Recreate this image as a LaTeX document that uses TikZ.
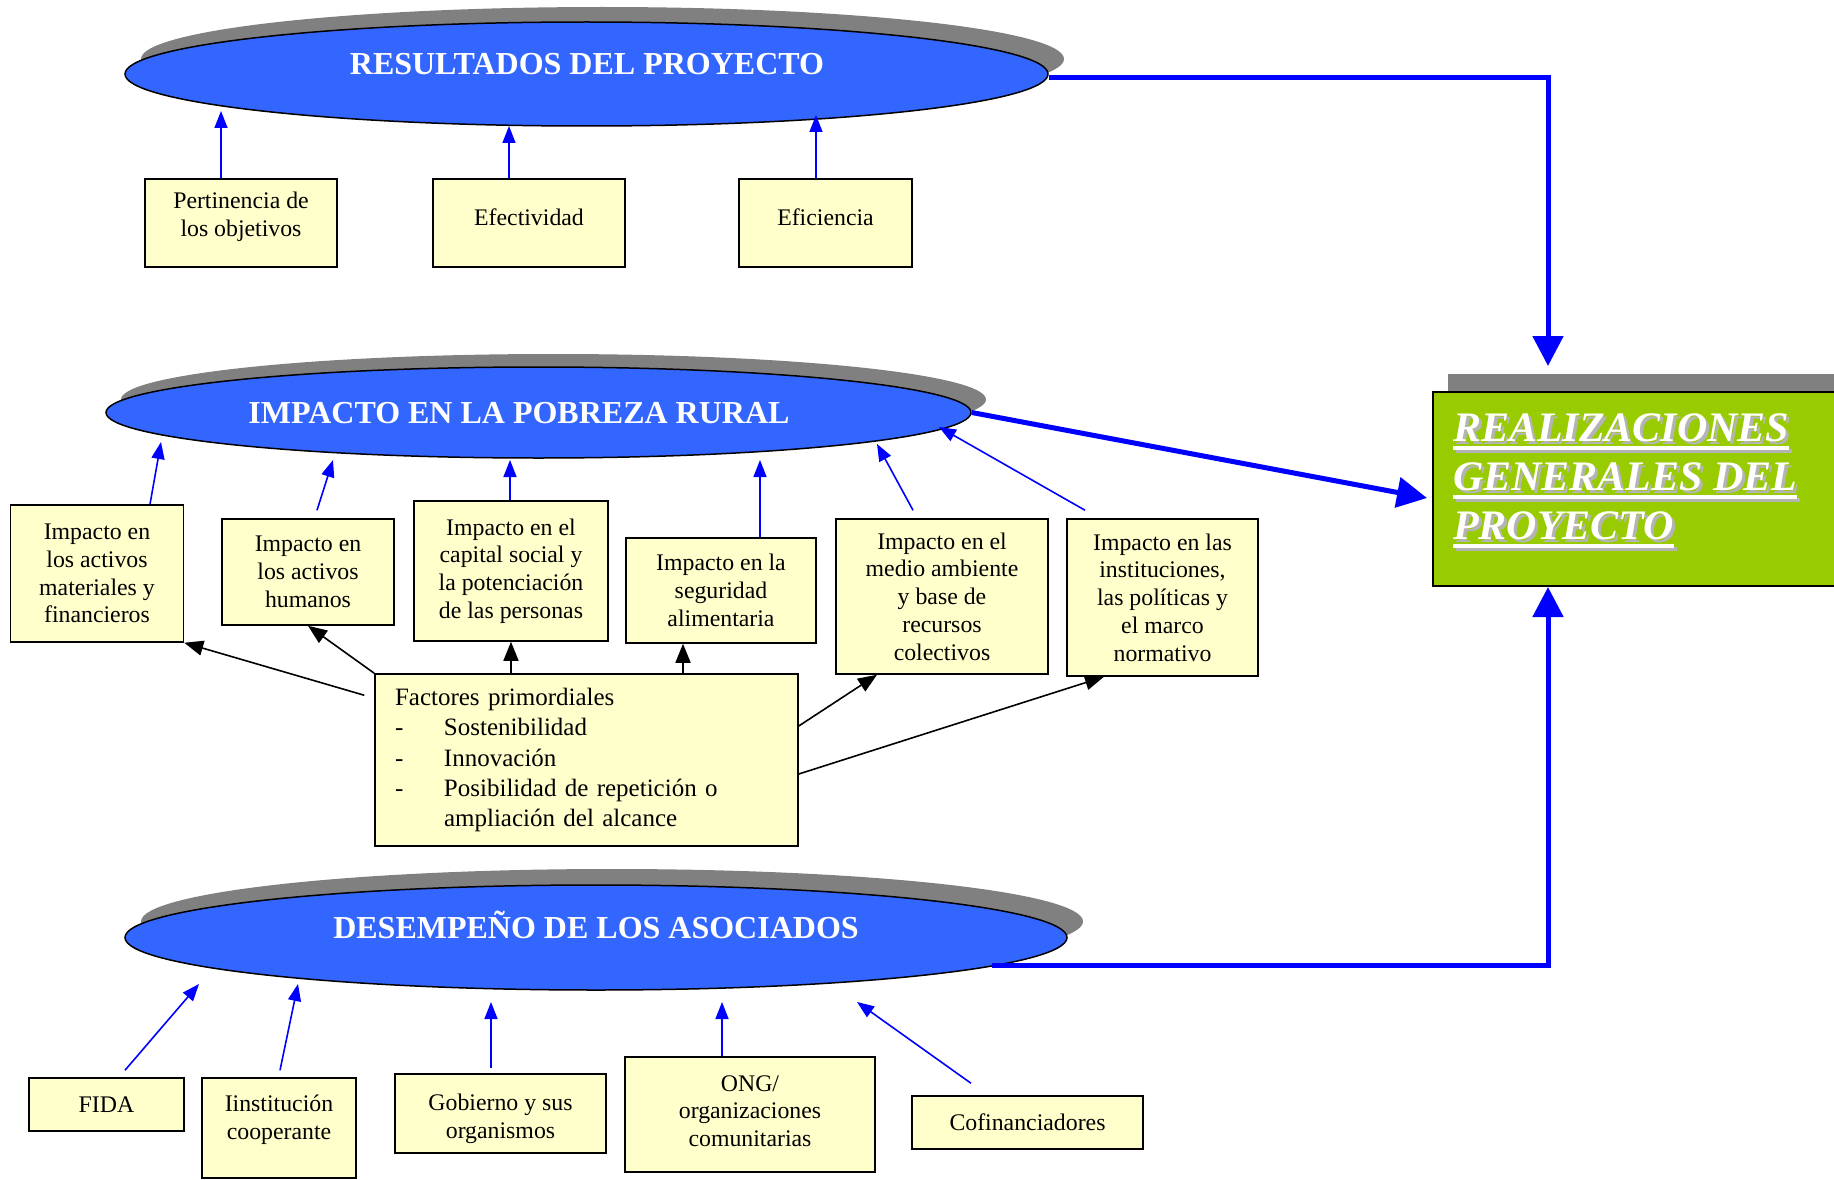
\documentclass[tikz,border=0pt]{standalone}
\usepackage{fontspec}
\setmainfont{Liberation Serif}
\usetikzlibrary{shapes.geometric,arrows.meta}
\definecolor{ellblue}{HTML}{3366FF}
\definecolor{shgray}{HTML}{808080}
\definecolor{txtshadow}{HTML}{B4B4B4}
\definecolor{boxy}{HTML}{FFFFCC}
\definecolor{realgreen}{HTML}{99CC00}
\definecolor{arrblue}{HTML}{0000FF}
\newsavebox\ulsave
\newcommand\thickul[1]{\sbox\ulsave{#1}\rlap{\rule[-9pt]{\wd\ulsave}{4pt}}\usebox\ulsave}
\begin{document}
\begin{tikzpicture}[x=1pt,y=-1pt,
  ell/.style={ellipse,draw=black,line width=1.5pt,fill=ellblue,inner sep=0pt},
  ellsh/.style={ellipse,fill=shgray,inner sep=0pt},
  ttl/.style={text=white,font=\fontsize{32}{38}\selectfont\bfseries,inner sep=0pt,text height=22pt,text depth=0pt},
  box/.style={draw=black,line width=1.5pt,fill=boxy,align=center,inner sep=0pt,font=\fontsize{23.8}{27.8}\selectfont},
  boxtext/.style={align=center,inner sep=0pt,font=\fontsize{23.8}{27.8}\selectfont},
  thinarr/.style={draw=arrblue,line width=1.6pt,-{Triangle[length=17pt,width=13pt]}},
  thickarr/.style={draw=arrblue,line width=5pt,-{Triangle[length=30pt,width=30pt]}},
  blkarr/.style={draw=black,line width=1.6pt,-{Triangle[length=19pt,width=15pt]}},
  realtxt/.style={align=left,inner sep=0pt,anchor=north west,font=\fontsize{42}{49}\selectfont\bfseries\itshape}
]
\useasboundingbox (0,0) rectangle (1834,1180);
\clip (0,0) rectangle (1834,1180);

% ellipses
\node[ellsh,minimum width=923pt,minimum height=104pt] (e1s) at (602.5,59) {};
\node[ell,minimum width=923pt,minimum height=104pt] (e1) at (586.5,74) {};
\node[ttl] (t1) at (587,64) {RESULTADOS DEL PROYECTO};

\node[ellsh,minimum width=865pt,minimum height=91pt] (e2s) at (553.5,399.5) {};
\node[ell,minimum width=865pt,minimum height=91pt] (e2) at (538.5,412.5) {};
\node[ttl] (t2) at (519,412) {IMPACTO EN LA POBREZA RURAL};

\node[ellsh,minimum width=942pt,minimum height=105pt] (e3s) at (612,921.5) {};
\node[ell,minimum width=942pt,minimum height=105pt] (e3) at (596,937.5) {};
\node[ttl] (t3) at (596,927) {DESEMPEÑO DE LOS ASOCIADOS};

% realizaciones
\node[fill=shgray,minimum width=400pt,minimum height=194pt,anchor=north west,inner sep=0pt] (reals) at (1448,374) {};
\node[fill=realgreen,draw=black,line width=2pt,minimum width=420pt,minimum height=194pt,anchor=north west,inner sep=0pt] (real) at (1432,391) {};
\node[realtxt,text=txtshadow] (realsh) at (1456,416) {\thickul{REALIZACIONES}\\\thickul{GENERALES DEL}\\\thickul{PROYECTO}};
\node[realtxt,text=white] (realt) at (1453,413) {\thickul{REALIZACIONES}\\\thickul{GENERALES DEL}\\\thickul{PROYECTO}};

% row 1 boxes
\node[box,minimum width=192pt,minimum height=88pt,text depth=17pt] (pert) at (241,223) {Pertinencia de\\los objetivos};
\node[box,minimum width=192pt,minimum height=88pt,text depth=11pt] (efec) at (529,223) {Efectividad};
\node[box,minimum width=173pt,minimum height=88pt,text depth=11pt] (efic) at (825.5,223) {Eficiencia};

% row 2 boxes
\node[box,minimum width=173pt,minimum height=137pt] (b1) at (97,573.5) {Impacto en\\los activos\\materiales y\\financieros};
\node[box,minimum width=172pt,minimum height=106pt] (b2) at (308,572) {Impacto en\\los activos\\humanos};
\node[box,minimum width=194pt,minimum height=140pt] (b3) at (511,571) {Impacto en el\\capital social y\\la potenciación\\de las personas};
\node[box,minimum width=190pt,minimum height=105pt] (b4) at (721,590.5) {Impacto en la\\seguridad\\alimentaria};
\node[box,minimum width=212pt,minimum height=155pt] (b5) at (942,596.5) {Impacto en el\\medio ambiente\\y base de\\recursos\\colectivos};
\node[box,minimum width=191pt,minimum height=157pt] (b6) at (1162.5,597.5) {Impacto en las\\instituciones,\\las políticas y\\el marco\\normativo};

% factores
\node[box,minimum width=423pt,minimum height=172pt,align=left,text width=383pt,font=\fontsize{25}{30.25}\selectfont] (fac) at (586.5,760)
 {Factores primordiales\\
  \makebox[49pt][l]{-}Sostenibilidad\\
  \makebox[49pt][l]{-}Innovación\\
  \makebox[49pt][l]{-}Posibilidad de repetición o\\
  \hspace*{49pt}ampliación del alcance};

% row 3 boxes
\node[box,minimum width=155pt,minimum height=53pt] (fida) at (106.5,1104.5) {FIDA};
\node[box,minimum width=154pt,minimum height=100pt] (inst) at (279,1128) {};
\node[boxtext] (instt) at (279,1120) {Iinstitución\\cooperante};
\node[box,minimum width=211pt,minimum height=79pt,text height=55.5pt] (gob) at (500.5,1113.5) {Gobierno y sus\\organismos};
\node[box,minimum width=250pt,minimum height=115pt,text depth=7pt] (ong) at (750,1114.5) {ONG/\\organizaciones\\comunitarias};
\node[box,minimum width=231pt,minimum height=53pt] (cofi) at (1027.5,1122.5) {Cofinanciadores};

% arrow end coordinates
\coordinate (r1) at (221,111);
\coordinate (r2) at (509,126);
\coordinate (r3) at (816,115);
\coordinate (i1) at (161,442);
\coordinate (i2) at (333,460);
\coordinate (i3) at (510,460);
\coordinate (i4) at (760,460);
\coordinate (i5) at (877,444);
\coordinate (i6) at (939,427);
\coordinate (d1) at (199,984);
\coordinate (d2) at (298,984);
\coordinate (d3) at (491,1002);
\coordinate (d4) at (722,1002);
\coordinate (d5) at (857,1002);

% row 1 arrows
\draw[thinarr] ([xshift=-20pt]pert.north) -- (r1);
\draw[thinarr] ([xshift=-20pt]efec.north) -- (r2);
\draw[thinarr] ([xshift=-9.5pt]efic.north) -- (r3);

% row 2 arrows
\draw[thinarr] ([xshift=53pt]b1.north) -- (i1);
\draw[thinarr] ([xshift=9pt,yshift=8pt]b2.north) -- (i2);
\draw[thinarr] ([xshift=-1pt]b3.north) -- (i3);
\draw[thinarr] ([xshift=39pt]b4.north) -- (i4);
\draw[thinarr] ([xshift=-29pt,yshift=8pt]b5.north) -- (i5);
\draw[thinarr] ([xshift=-77.5pt,yshift=8pt]b6.north) -- (i6);

% factores arrows
\draw[blkarr] ([xshift=-10pt,yshift=-22pt]fac.north west) -- (b1.south east);
\draw[blkarr] (fac.north west) -- (b2.south);
\draw[blkarr] ([xshift=-75.5pt]fac.north) -- (b3.south);
\draw[blkarr] ([xshift=96.5pt]fac.north) -- ([xshift=-38pt]b4.south);
\draw[blkarr] ([yshift=34pt]fac.east) -- ([xshift=-65pt]b5.south);
\draw[blkarr] ([yshift=-14pt]fac.east) -- ([xshift=-58.5pt]b6.south);

% row 3 arrows
\draw[thinarr] ([xshift=18.5pt,yshift=7pt]fida.north) -- (d1);
\draw[thinarr] ([xshift=1pt,yshift=7pt]inst.north) -- (d2);
\draw[thinarr] ([xshift=-9.5pt,yshift=5pt]gob.north) -- (d3);
\draw[thinarr] ([xshift=-28pt]ong.north) -- (d4);
\draw[thinarr] ([xshift=-56.5pt,yshift=12pt]cofi.north) -- (d5);

% thick arrows
\draw[thickarr] ([yshift=-4pt]e1.east) -| ([xshift=-95pt,yshift=25pt]real.north);
\draw[thickarr] (e2.east) -- ([xshift=-5pt,yshift=-9pt]real.west);
\draw[thickarr] ([xshift=-76pt,yshift=-27.5pt]e3.east) -| ([xshift=-95pt]real.south);
\end{tikzpicture}
\end{document}
